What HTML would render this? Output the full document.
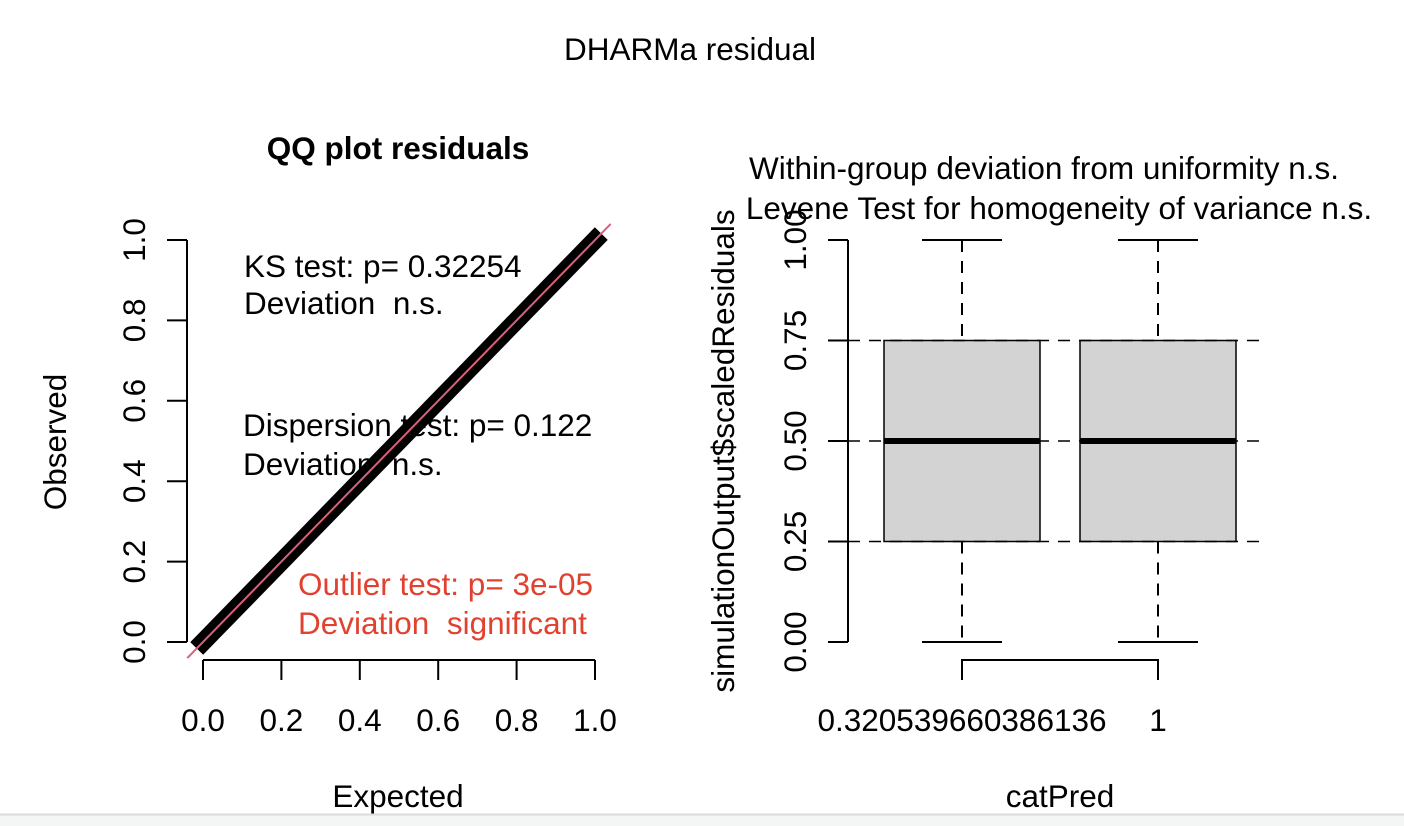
<!DOCTYPE html>
<html><head><meta charset="utf-8"><style>
html,body{margin:0;padding:0;background:#fff;}
svg{display:block;font-family:"Liberation Sans",Arial,sans-serif;}
text{white-space:pre;}
</style></head><body>
<svg id="chart" width="1404" height="826" viewBox="0 0 1404 826">
<rect x="0" y="0" width="1404" height="826" fill="#fff"/>
<rect x="0" y="814" width="1404" height="12" fill="#f3f6f5"/>
<line x1="0" y1="814.5" x2="1404" y2="814.5" stroke="#d8dcdc" stroke-width="2"/>
<text x="690" y="60" font-size="31.5" text-anchor="middle">DHARMa residual</text>
<g id="left">
<text x="398" y="159" font-size="31.5" font-weight="bold" text-anchor="middle">QQ plot residuals</text>
<text x="398" y="807" font-size="31.5" text-anchor="middle">Expected</text>
<text transform="translate(66,442) rotate(-90)" font-size="31.5" text-anchor="middle">Observed</text>
<text x="244" y="277" font-size="31.5">KS test: p= 0.32254</text>
<text x="244" y="314" font-size="31.5">Deviation  n.s.</text>
<text x="243" y="436" font-size="31.5">Dispersion test: p= 0.122</text>
<text x="243" y="475" font-size="31.5">Deviation  n.s.</text>
<text x="298" y="595" font-size="31.5" fill="#e0422f">Outlier test: p= 3e-05</text>
<text x="298" y="634" font-size="31.5" fill="#e0422f">Deviation  significant</text>
</g>
<g id="right">
<text x="1044" y="179" font-size="31.5" text-anchor="middle">Within-group deviation from uniformity n.s.</text>
<text x="1059" y="219" font-size="31.5" text-anchor="middle">Levene Test for homogeneity of variance n.s.</text>
<text x="1060" y="807" font-size="31.5" text-anchor="middle">catPred</text>
<text transform="translate(734,451) rotate(-90)" font-size="31.5" text-anchor="middle">simulationOutput$scaledResiduals</text>
</g>
</svg>
<script>
var NS="http://www.w3.org/2000/svg";
var svg=document.getElementById('chart');
function mk(tag,attrs,parent){var e=document.createElementNS(NS,tag);for(var k in attrs)e.setAttribute(k,attrs[k]);(parent||svg).appendChild(e);return e;}
// ---- QQ data ----
var qqExpected=[0,0.1,0.2,0.3,0.4,0.5,0.6,0.7,0.8,0.9,1.0];
var qqObserved=[0,0.1,0.2,0.3,0.4,0.5,0.6,0.7,0.8,0.9,1.0];
var qqXTicks=["0.0","0.2","0.4","0.6","0.8","1.0"];
var qqYTicks=["0.0","0.2","0.4","0.6","0.8","1.0"];
// ---- Box data ----
var boxCategories=["0.320539660386136","1"];
var boxMin=[0,0];
var boxQ1=[0.25,0.25];
var boxMedian=[0.5,0.5];
var boxQ3=[0.75,0.75];
var boxMax=[1,1];
var boxYTicks=["0.00","0.25","0.50","0.75","1.00"];
var boxRefLines=[0.25,0.5,0.75];

var left=document.getElementById('left'), right=document.getElementById('right');
function qx(v){return 203+v*392;}
function qy(v){return 642-v*402;}
var a=mk('line',{x1:187,y1:qy(0),x2:187,y2:qy(1),stroke:'#000','stroke-width':2},left);


qqYTicks.forEach(function(t){var v=parseFloat(t);
 var l=mk('line',{x1:167,y1:qy(v),x2:187,y2:qy(v),stroke:'#000','stroke-width':2},left);
 
 
 var tx=mk('text',{transform:'translate(145,'+qy(v)+') rotate(-90)','font-size':31.5,'text-anchor':'middle'},left);tx.textContent=t;
 
 
});
var b=mk('line',{x1:qx(0),y1:660,x2:qx(1),y2:660,stroke:'#000','stroke-width':2},left);


qqXTicks.forEach(function(t){var v=parseFloat(t);
 var l=mk('line',{x1:qx(v),y1:660,x2:qx(v),y2:680,stroke:'#000','stroke-width':2},left);
 
 
 var tx=mk('text',{x:qx(v),y:731,'font-size':31.5,'text-anchor':'middle'},left);tx.textContent=t;
 
 
});
var pts=qqExpected.map(function(e,i){return qx(e)+','+qy(qqObserved[i]);}).join(' ');
var band=mk('polyline',{points:pts,fill:'none',stroke:'#000','stroke-width':18,'stroke-linecap':'square'},left);


var rl=mk('line',{x1:qx(-0.04),y1:qy(-0.04),x2:qx(1.04),y2:qy(1.04),stroke:'#d9607a','stroke-width':2},left);



function by(v){return 642-v*402;}
var centers=[962,1158];
var ya=mk('line',{x1:848,y1:by(0),x2:848,y2:by(1),stroke:'#000','stroke-width':2},right);


boxYTicks.forEach(function(t){var v=parseFloat(t);
 var l=mk('line',{x1:828,y1:by(v),x2:848,y2:by(v),stroke:'#000','stroke-width':2},right);
 
 
 var tx=mk('text',{transform:'translate(806,'+by(v)+') rotate(-90)','font-size':31.5,'text-anchor':'middle'},right);tx.textContent=t;
 
 
});
var xa=mk('polyline',{points:centers[0]+',680 '+centers[0]+',660 '+centers[1]+',660 '+centers[1]+',680',fill:'none',stroke:'#000','stroke-width':2},right);


boxCategories.forEach(function(c,i){
 var tx=mk('text',{x:centers[i],y:731,'font-size':31.5,'text-anchor':'middle'},right);tx.textContent=c;
 
 
 var cx=centers[i];
 var w1=mk('line',{x1:cx,y1:by(boxMax[i]),x2:cx,y2:by(boxQ3[i]),stroke:'#000','stroke-width':2,'stroke-dasharray':'12,9'},right);
 
 
 var w2=mk('line',{x1:cx,y1:by(boxQ1[i]),x2:cx,y2:by(boxMin[i]),stroke:'#000','stroke-width':2,'stroke-dasharray':'12,9'},right);
 
 
 var c1=mk('line',{x1:cx-40,y1:by(boxMax[i]),x2:cx+40,y2:by(boxMax[i]),stroke:'#000','stroke-width':2},right);
 
 
 var c2=mk('line',{x1:cx-40,y1:by(boxMin[i]),x2:cx+40,y2:by(boxMin[i]),stroke:'#000','stroke-width':2},right);
 
 
 var r=mk('rect',{x:cx-78,y:by(boxQ3[i]),width:156,height:by(boxQ1[i])-by(boxQ3[i]),fill:'#d3d3d3',stroke:'#000','stroke-width':1.5},right);
 
 
 var m=mk('line',{x1:cx-78,y1:by(boxMedian[i]),x2:cx+78,y2:by(boxMedian[i]),stroke:'#000','stroke-width':6},right);
 
 
});
boxRefLines.forEach(function(v){
 var l=mk('line',{x1:848,y1:by(v),x2:1266,y2:by(v),stroke:'#000','stroke-width':1.5,'stroke-dasharray':'12,9'},right);
 
 
});
</script>
</body></html>
